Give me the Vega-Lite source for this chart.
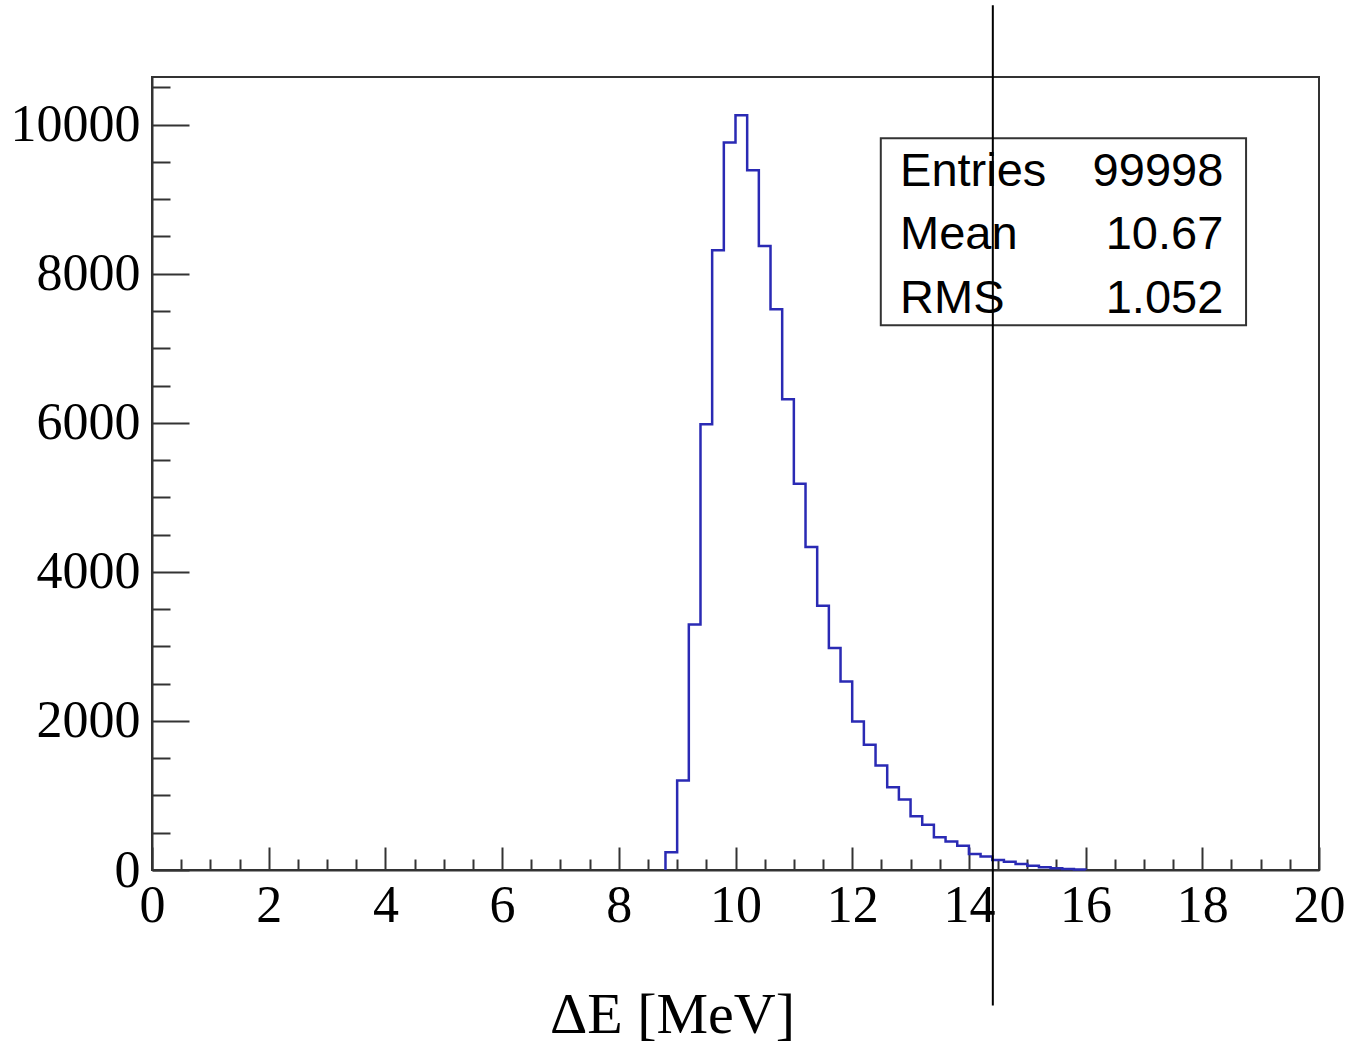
{
  "$schema": "https://vega.github.io/schema/vega-lite/v6.json",
  "autosize": {"type": "none"},
  "width": 1167,
  "height": 793,
  "padding": {"left": 152, "top": 77, "right": 29, "bottom": 175},
  "background": "white",
  "config": {
    "view": {"stroke": "#333333", "strokeWidth": 2},
    "axis": {"domainColor": "#333333", "domainWidth": 2, "tickColor": "#333333", "tickWidth": 2, "grid": false, "labelColor": "black", "labelFont": "Liberation Serif", "labelFontSize": 52}
  },
  "datasets": {
    "hist": [
      {"i": 0, "x": 8.8, "n": 0},
      {"i": 1, "x": 8.8, "n": 239},
      {"i": 2, "x": 9.0, "n": 1201},
      {"i": 3, "x": 9.2, "n": 3295},
      {"i": 4, "x": 9.4, "n": 5980},
      {"i": 5, "x": 9.6, "n": 8315},
      {"i": 6, "x": 9.8, "n": 9761},
      {"i": 7, "x": 10.0, "n": 10128},
      {"i": 8, "x": 10.2, "n": 9389},
      {"i": 9, "x": 10.4, "n": 8373},
      {"i": 10, "x": 10.6, "n": 7523},
      {"i": 11, "x": 10.8, "n": 6315},
      {"i": 12, "x": 11.0, "n": 5184},
      {"i": 13, "x": 11.2, "n": 4333},
      {"i": 14, "x": 11.4, "n": 3546},
      {"i": 15, "x": 11.6, "n": 2977},
      {"i": 16, "x": 11.8, "n": 2530},
      {"i": 17, "x": 12.0, "n": 1993},
      {"i": 18, "x": 12.2, "n": 1680},
      {"i": 19, "x": 12.4, "n": 1403},
      {"i": 20, "x": 12.6, "n": 1111},
      {"i": 21, "x": 12.8, "n": 946},
      {"i": 22, "x": 13.0, "n": 722},
      {"i": 23, "x": 13.2, "n": 607},
      {"i": 24, "x": 13.4, "n": 440},
      {"i": 25, "x": 13.6, "n": 383},
      {"i": 26, "x": 13.8, "n": 325},
      {"i": 27, "x": 14.0, "n": 215},
      {"i": 28, "x": 14.2, "n": 180},
      {"i": 29, "x": 14.4, "n": 135},
      {"i": 30, "x": 14.6, "n": 110},
      {"i": 31, "x": 14.8, "n": 80},
      {"i": 32, "x": 15.0, "n": 58},
      {"i": 33, "x": 15.2, "n": 38},
      {"i": 34, "x": 15.4, "n": 22},
      {"i": 35, "x": 15.6, "n": 14},
      {"i": 36, "x": 15.8, "n": 8},
      {"i": 37, "x": 16.0, "n": 0}
    ],
    "box": [{"x0": 12.49, "x1": 18.75, "y0": 7309, "y1": 9819}],
    "stats": [
      {"name": "Entries", "value": "99998", "xl": 12.82, "xr": 18.36, "y": 9179},
      {"name": "Mean", "value": "10.67", "xl": 12.82, "xr": 18.36, "y": 8338},
      {"name": "RMS", "value": "1.052", "xl": 12.82, "xr": 18.36, "y": 7474}
    ],
    "marker": [{"x": 14.41, "ytop": 11604, "ybot": -1819}]
  },
  "layer": [
    {
      "data": {"name": "hist"},
      "mark": {"type": "line", "interpolate": "step-after", "color": "#2a2ab4", "strokeWidth": 2.5},
      "encoding": {
        "x": {
          "field": "x", "type": "quantitative",
          "scale": {"domain": [0, 20], "nice": false, "zero": false},
          "axis": {
            "values": [0,0.5,1,1.5,2,2.5,3,3.5,4,4.5,5,5.5,6,6.5,7,7.5,8,8.5,9,9.5,10,10.5,11,11.5,12,12.5,13,13.5,14,14.5,15,15.5,16,16.5,17,17.5,18,18.5,19,19.5,20],
            "tickCount": 200,
            "tickMinStep": 0.5,
            "labelExpr": "datum.value % 2 === 0 ? format(datum.value, 'd') : ''",
            "tickSize": {"condition": {"test": "datum.value % 2 === 0", "value": -23}, "value": -11},
            "labelPadding": 33,
            "labelFlush": false,
            "labelOverlap": false,
            "title": "ΔE [MeV]",
            "titleFont": "Liberation Serif",
            "titleFontSize": 58,
            "titleFontWeight": "normal",
            "titleColor": "black",
            "titleAlign": "center",
            "titleX": 520,
            "titleY": 162,
            "titleBaseline": "alphabetic"
          }
        },
        "y": {
          "field": "n", "type": "quantitative",
          "scale": {"domain": [0, 10640], "nice": false, "zero": true},
          "axis": {
            "values": [0,500,1000,1500,2000,2500,3000,3500,4000,4500,5000,5500,6000,6500,7000,7500,8000,8500,9000,9500,10000,10500],
            "tickCount": 200,
            "labelExpr": "datum.value % 2000 === 0 ? datum.label : ''",
            "format": "d",
            "tickSize": {"condition": {"test": "datum.value % 2000 === 0", "value": -37}, "value": -18},
            "labelPadding": 49,
            "labelFlush": false,
            "labelOverlap": false,
            "title": null
          }
        },
        "order": {"field": "i", "type": "quantitative"}
      }
    },
    {
      "data": {"name": "box"},
      "mark": {"type": "rect", "fill": "white", "stroke": "#333333", "strokeWidth": 2},
      "encoding": {
        "x": {"field": "x0", "type": "quantitative"},
        "x2": {"field": "x1"},
        "y": {"field": "y0", "type": "quantitative"},
        "y2": {"field": "y1"}
      }
    },
    {
      "data": {"name": "stats"},
      "mark": {"type": "text", "align": "left", "baseline": "alphabetic", "font": "Liberation Sans", "fontSize": 47, "color": "black"},
      "encoding": {
        "x": {"field": "xl", "type": "quantitative"},
        "y": {"field": "y", "type": "quantitative"},
        "text": {"field": "name"}
      }
    },
    {
      "data": {"name": "stats"},
      "mark": {"type": "text", "align": "right", "baseline": "alphabetic", "font": "Liberation Sans", "fontSize": 47, "color": "black"},
      "encoding": {
        "x": {"field": "xr", "type": "quantitative"},
        "y": {"field": "y", "type": "quantitative"},
        "text": {"field": "value"}
      }
    },
    {
      "data": {"name": "marker"},
      "mark": {"type": "rule", "color": "black", "strokeWidth": 2},
      "encoding": {
        "x": {"field": "x", "type": "quantitative"},
        "y": {"field": "ytop", "type": "quantitative"},
        "y2": {"field": "ybot"}
      }
    }
  ]
}
